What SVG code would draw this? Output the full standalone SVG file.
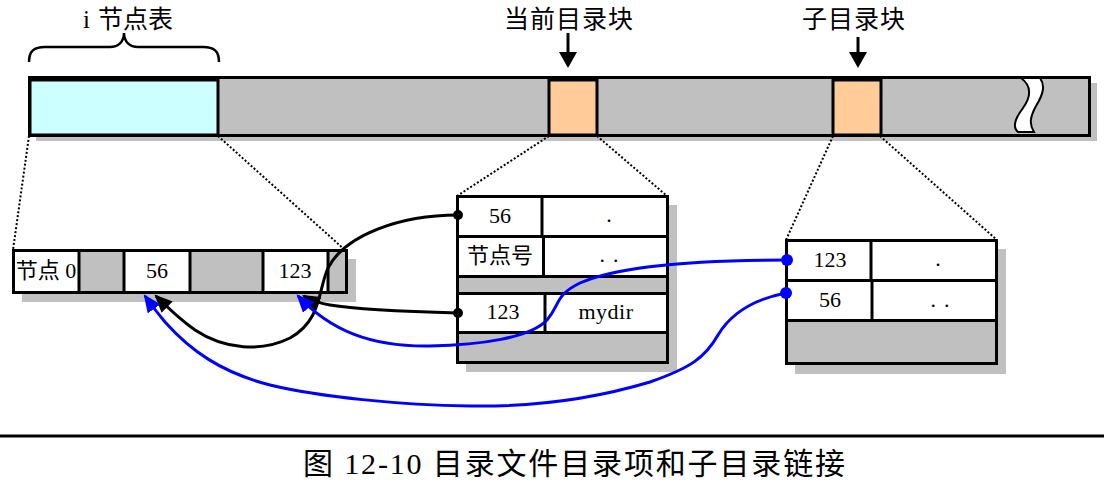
<svg xmlns="http://www.w3.org/2000/svg" width="1104" height="488" viewBox="0 0 1104 488">
<style>
text{font-family:"Liberation Serif","Noto Sans CJK SC",serif;fill:#000}
.t{font-size:25px;text-anchor:middle}
.c{font-size:22px;text-anchor:middle}
.g{fill:#c0c0c0}
.box{stroke:#000;stroke-width:3}
.ln{stroke:#000;stroke-width:2.5;fill:none}
.dot{stroke:#000;stroke-width:2;stroke-dasharray:2,2;fill:none}
.bk{stroke:#000;stroke-width:3;fill:none;marker-end:url(#ab)}
.bl{stroke:#0000ff;stroke-width:3;fill:none;marker-end:url(#au)}
</style>
<defs>
<marker id="ab" markerUnits="userSpaceOnUse" markerWidth="18" markerHeight="16" viewBox="0 0 16 14" refX="14" refY="7" orient="auto"><path d="M0,0 L16,7 L0,14 Z" fill="#000"/></marker>
<marker id="au" markerUnits="userSpaceOnUse" markerWidth="18" markerHeight="16" viewBox="0 0 16 14" refX="14" refY="7" orient="auto"><path d="M0,0 L16,7 L0,14 Z" fill="#0000ff"/></marker>
</defs>

<g id="disk">
<rect class="g" x="36" y="83" width="1061" height="58"/>
<rect class="g box" x="29.5" y="77.5" width="1060" height="58"/>
<path d="M1021,78 C1032,86 1031,97 1023,108 C1014,120 1013,128 1018,132 L1034,132 C1029,124 1030,117 1036,106 C1044,93 1045,85 1040,78 Z" fill="#fff" stroke="#000" stroke-width="2"/>
</g>

<g id="inode-area">
<rect x="30" y="80" width="188" height="55" fill="#ccffff" class="box"/>
<path class="ln" d="M29,62 C29,51 34,47 45,47 L110,47 C118,47 124,42 124,33 C124,42 130,47 138,47 L203,47 C214,47 219,51 219,62"/>
<text class="t" x="128" y="28">i <tspan dx="2">节点表</tspan></text>
</g>

<g id="cur-block">
<rect x="549" y="80" width="48" height="55" fill="#ffcc99" class="box"/>
<text class="t" x="569" y="28" letter-spacing="1">当前目录块</text>
<line x1="568" y1="33" x2="568" y2="53" stroke="#000" stroke-width="3"/>
<path d="M559,52 L577,52 L568,68 Z"/>
</g>

<g id="sub-block">
<rect x="833" y="80" width="48" height="55" fill="#ffcc99" class="box"/>
<text class="t" x="854" y="28" letter-spacing="1">子目录块</text>
<line x1="858" y1="37" x2="858" y2="53" stroke="#000" stroke-width="3"/>
<path d="M849,52 L867,52 L858,68 Z"/>
</g>

<g id="zoom-lines">
<line class="dot" x1="29" y1="136" x2="13" y2="250"/>
<line class="dot" x1="218" y1="136" x2="345" y2="250"/>
<line class="dot" x1="549" y1="136" x2="457" y2="196"/>
<line class="dot" x1="597" y1="136" x2="667" y2="196"/>
<line class="dot" x1="833" y1="136" x2="786" y2="240"/>
<line class="dot" x1="880" y1="136" x2="997" y2="240"/>
</g>

<g id="inode-table">
<rect class="g" x="22" y="259" width="334" height="43"/>
<rect class="g box" x="13.5" y="250.5" width="333" height="42"/>
<rect x="13.5" y="250.5" width="65.5" height="42" fill="#fff" class="box"/>
<rect x="124" y="250.5" width="66" height="42" fill="#fff" class="box"/>
<rect x="263" y="250.5" width="65" height="42" fill="#fff" class="box"/>
<text class="c" x="46" y="278">节点 0</text>
<text class="c" x="157" y="278">56</text>
<text class="c" x="295" y="278">123</text>
</g>

<g id="dir-block">
<rect class="g" x="466" y="205" width="211" height="167"/>
<rect class="g box" x="457.5" y="196.5" width="210" height="166"/>
<rect x="457.5" y="196.5" width="210" height="40" fill="#fff" class="box"/>
<rect x="457.5" y="236.5" width="210" height="40" fill="#fff" class="box"/>
<rect x="457.5" y="293.5" width="210" height="39" fill="#fff" class="box"/>
<line x1="542" y1="196" x2="542" y2="237" class="box"/>
<line x1="543.5" y1="236" x2="543.5" y2="277" class="box"/>
<line x1="545" y1="293" x2="545" y2="333" class="box"/>
<text class="c" x="500" y="223">56</text>
<text class="c" x="609" y="222">.</text>
<text class="c" x="500" y="263">节点号</text>
<text class="c" x="613" y="262" letter-spacing="8">..</text>
<text class="c" x="503" y="319">123</text>
<text class="c" x="606" y="319" letter-spacing="0.5">mydir</text>
</g>

<g id="subdir-block">
<rect class="g" x="795" y="249" width="211" height="125"/>
<rect class="g box" x="786.5" y="240.5" width="210" height="123"/>
<rect x="786.5" y="240.5" width="210" height="40" fill="#fff" class="box"/>
<rect x="786.5" y="280.5" width="210" height="40" fill="#fff" class="box"/>
<line x1="871" y1="240" x2="871" y2="281" class="box"/>
<line x1="872" y1="280" x2="872" y2="321" class="box"/>
<text class="c" x="830" y="267">123</text>
<text class="c" x="938" y="266">.</text>
<text class="c" x="830" y="307">56</text>
<text class="c" x="944" y="307" letter-spacing="8">..</text>
</g>

<g id="connectors">
<path class="bk" d="M458,215 C400,215 345,235 328,268 C318,290 322,320 290,338 C262,352 225,350 195,330 C178,318 165,305 156,296"/>
<path class="bk" d="M458,313 C420,312 360,310 330,305 C318,303 311,300 304,296"/>
<path class="bl" d="M787,260 C700,260 620,265 580,283 C555,295 560,305 547,320 C530,338 480,345 430,346 C370,347 330,330 298,296"/>
<path class="bl" d="M786,293 C750,300 730,315 718,335 C705,358 690,368 650,382 C590,400 530,407 470,406 C400,405 320,397 270,385 C220,372 190,350 165,322 C155,310 150,303 145,296"/>
<circle cx="458" cy="215" r="5"/>
<circle cx="458" cy="313" r="5"/>
<circle cx="787" cy="260" r="6" fill="#0000ff"/>
<circle cx="786" cy="293" r="6" fill="#0000ff"/>
</g>

<g id="caption">
<line x1="0" y1="436" x2="1104" y2="436" stroke="#000" stroke-width="3"/>
<text x="303" y="474" font-size="30" textLength="542" lengthAdjust="spacing">图 12-10 目录文件目录项和子目录链接</text>
</g>
</svg>
